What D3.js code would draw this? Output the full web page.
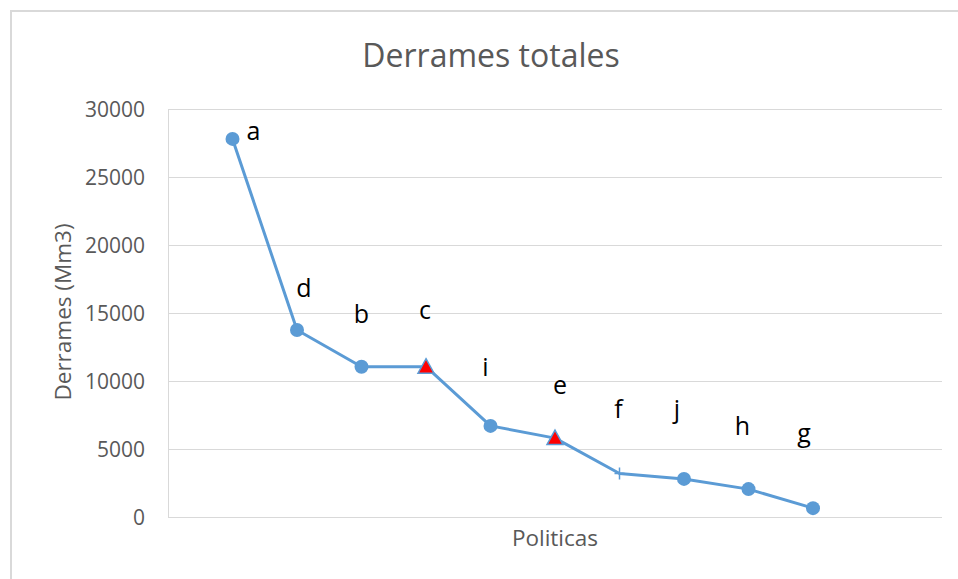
<!DOCTYPE html>
<html>
<head>
<meta charset="utf-8">
<script src="https://cdn.jsdelivr.net/npm/d3@7"></script>
<style>
  body { margin: 0; background: #fff; }
  svg { display: block; font-family: "Open Sans", sans-serif; }
</style>
</head>
<body>
<svg width="958" height="579"></svg>
<script>
// data
const politicas = ['a', 'd', 'b', 'c', 'i', 'e', 'f', 'j', 'h', 'g'];
const derrames = [27800, 13750, 11050, 11050, 6700, 5800, 3200, 2800, 2050, 650];
const markers = ['circle', 'circle', 'circle', 'triangle', 'circle', 'triangle', 'plus', 'circle', 'circle', 'circle'];
const yTicks = [0, 5000, 10000, 15000, 20000, 25000, 30000];

// label offsets (pixels) from each point, as placed by hand in the original
const labelOffsets = [[21, 1], [7, -33], [0, -44], [-1, -48], [-5, -50], [5, -44], [-1, -55], [-7, -61], [-6, -54], [-9, -66]];

const blue = '#5B9BD5';
const grid = '#D9D9D9';
const textGrey = '#595959';

const svg = d3.select('svg');

// outer chart border (only left and top visible)
svg.append('path')
  .attr('d', 'M11,579 V11 H958')
  .attr('fill', 'none')
  .attr('stroke', grid)
  .attr('stroke-width', 2);

const plotLeft = 168, plotRight = 942, plotTop = 109, plotBottom = 517;

// 12 category slots, points sit on slots 1..10
const x = d3.scaleLinear()
  .domain([0, 12])
  .range([plotLeft, plotRight]);
const y = d3.scaleLinear()
  .domain([0, 30000])
  .range([plotBottom, plotTop]);

// gridlines
svg.append('g')
  .selectAll('line')
  .data(yTicks)
  .join('line')
  .attr('x1', plotLeft)
  .attr('x2', plotRight)
  .attr('y1', d => y(d) + 0.5)
  .attr('y2', d => y(d) + 0.5)
  .attr('stroke', grid)
  .attr('stroke-width', 1);

// vertical axis line
svg.append('line')
  .attr('x1', plotLeft + 0.5).attr('x2', plotLeft + 0.5)
  .attr('y1', plotTop).attr('y2', plotBottom + 1)
  .attr('stroke', grid);

// y tick labels
svg.append('g')
  .selectAll('text')
  .data(yTicks)
  .join('text')
  .attr('x', 145)
  .attr('y', d => y(d) + 8)
  .attr('text-anchor', 'end')
  .attr('fill', textGrey)
  .attr('font-size', 21)
  .text(d => d);

// titles
svg.append('text')
  .attr('x', 491)
  .attr('y', 67)
  .attr('text-anchor', 'middle')
  .attr('fill', textGrey)
  .attr('font-size', 32)
  .text('Derrames totales');

svg.append('text')
  .attr('transform', 'translate(71,312) rotate(-90)')
  .attr('text-anchor', 'middle')
  .attr('fill', textGrey)
  .attr('font-size', 22.5)
  .text('Derrames (Mm3)');

svg.append('text')
  .attr('x', (plotLeft + plotRight) / 2)
  .attr('y', 546)
  .attr('text-anchor', 'middle')
  .attr('fill', textGrey)
  .attr('font-size', 22.5)
  .text('Politicas');

// series line
const line = d3.line()
  .x((d, i) => x(i + 1))
  .y(d => y(d));

svg.append('path')
  .datum(derrames)
  .attr('d', line)
  .attr('fill', 'none')
  .attr('stroke', blue)
  .attr('stroke-width', 3)
  .attr('stroke-linejoin', 'round');

// markers
const pts = svg.append('g')
  .selectAll('g')
  .data(derrames)
  .join('g')
  .attr('transform', (d, i) => `translate(${x(i + 1)},${y(d)})`);

pts.each(function (d, i) {
  const g = d3.select(this);
  if (markers[i] === 'circle') {
    g.append('circle')
      .attr('r', 7)
      .attr('fill', blue);
  } else if (markers[i] === 'triangle') {
    g.append('path')
      .attr('d', 'M0,-8 L8,6.5 L-8,6.5 Z')
      .attr('fill', '#FF0000')
      .attr('stroke', blue)
      .attr('stroke-width', 1.5);
  } else {
    g.append('path')
      .attr('d', 'M-5,0 H5 M0,-6 V6')
      .attr('stroke', blue)
      .attr('stroke-width', 1.5);
  }
});

// letter labels
svg.append('g')
  .selectAll('text')
  .data(derrames)
  .join('text')
  .attr('x', (d, i) => x(i + 1) + labelOffsets[i][0])
  .attr('y', (d, i) => y(d) + labelOffsets[i][1])
  .attr('text-anchor', 'middle')
  .attr('fill', '#000')
  .attr('font-size', 25)
  .text((d, i) => politicas[i]);
</script>
</body>
</html>
